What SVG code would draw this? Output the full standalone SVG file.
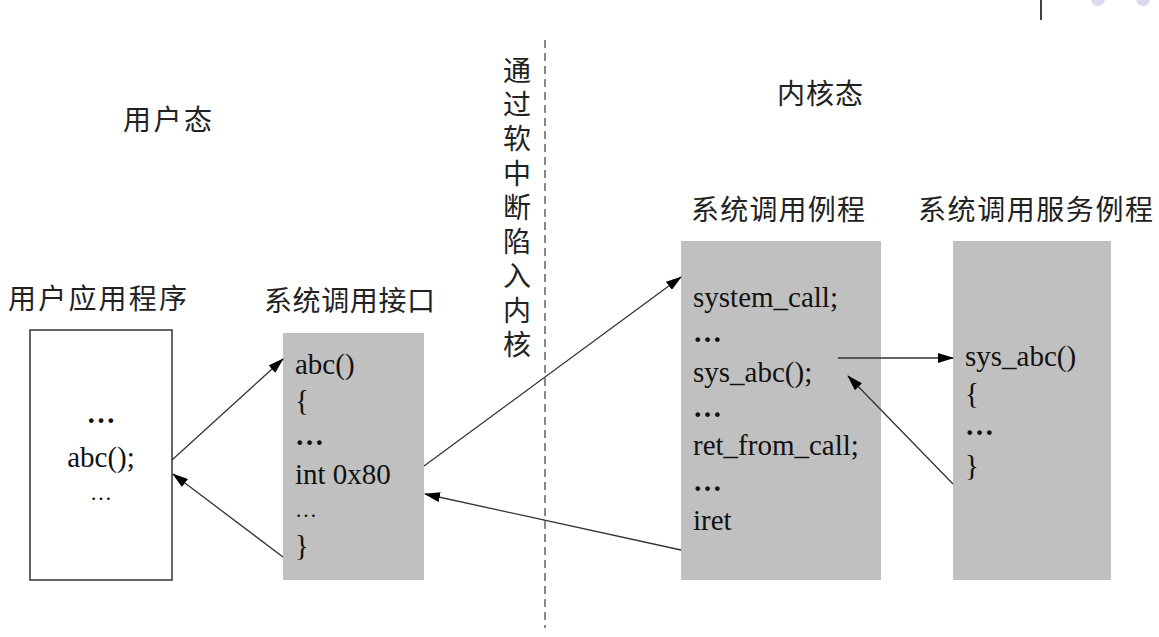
<svg xmlns="http://www.w3.org/2000/svg" width="1159" height="637" viewBox="0 0 1159 637">
<defs>
<style>
.cn{font-family:"Noto Sans CJK SC","Noto Sans CJK JP",sans-serif;font-size:28px;fill:#222}
.code{font-family:"Liberation Serif","Times New Roman",serif;font-size:29px;fill:#111}
.box{fill:#c0c0c0;stroke:none}
.wbox{fill:#fff;stroke:#333;stroke-width:1.5}
.con{stroke:#333;stroke-width:1.3;fill:none;marker-end:url(#ah)}
</style>
<marker id="ah" viewBox="0 0 16 10" refX="15" refY="5" markerWidth="16" markerHeight="10" markerUnits="userSpaceOnUse" orient="auto">
<path d="M0,0 L16,5 L0,10 Z" fill="#000"/>
</marker>
</defs>
<rect width="1159" height="637" fill="#fff"/>
<g id="decor">
<line x1="1041" y1="0" x2="1041" y2="20" stroke="#000" stroke-width="1.5"/>
<circle cx="1098" cy="-1" r="7" fill="#d9d9f0"/>
<circle cx="1143" cy="-1" r="7" fill="#d9d9f0"/>
</g>
<g id="divider">
<line x1="545" y1="40" x2="545" y2="628" stroke="#888" stroke-width="2" stroke-dasharray="8,5"/>
</g>
<g id="labels">
<text class="cn" x="123" y="130" textLength="89">用户态</text>
<text class="cn" x="777" y="104" textLength="86">内核态</text>
<text class="cn" x="517" y="56" writing-mode="vertical-rl" font-size="26" letter-spacing="6.3">通过软中断陷入内核</text>
</g>
<g id="user-app">
<text class="cn" x="8" y="309" textLength="179">用户应用程序</text>
<rect class="wbox" x="30" y="330" width="142" height="250"/>
<g class="code" text-anchor="middle">
<text x="101" y="423" font-weight="bold">…</text>
<text x="101" y="467">abc();</text>
<text x="101" y="500" font-size="22">…</text>
</g>
</g>
<g id="syscall-interface">
<text class="cn" x="264" y="311" textLength="171">系统调用接口</text>
<rect class="box" x="283" y="333" width="141" height="247"/>
<g class="code">
<text x="295" y="374">abc()</text>
<text x="295" y="410">{</text>
<text x="295" y="445" font-weight="bold">…</text>
<text x="295" y="484">int 0x80</text>
<text x="295" y="517" font-size="22">…</text>
<text x="295" y="555">}</text>
</g>
</g>
<g id="syscall-routine">
<text class="cn" x="691" y="220" textLength="174">系统调用例程</text>
<rect class="box" x="681" y="241" width="200" height="339"/>
<g class="code">
<text x="693" y="307">system_call;</text>
<text x="693" y="342" font-weight="bold">…</text>
<text x="693" y="382">sys_abc();</text>
<text x="693" y="417" font-weight="bold">…</text>
<text x="693" y="455">ret_from_call;</text>
<text x="693" y="491" font-weight="bold">…</text>
<text x="693" y="530">iret</text>
</g>
</g>
<g id="service-routine">
<text class="cn" x="918" y="220" textLength="235">系统调用服务例程</text>
<rect class="box" x="953" y="241" width="158" height="339"/>
<g class="code">
<text x="965" y="366">sys_abc()</text>
<text x="965" y="403">{</text>
<text x="965" y="435" font-weight="bold">…</text>
<text x="965" y="475">}</text>
</g>
</g>
<g id="connectors">
<line class="con" x1="172" y1="460" x2="283" y2="359"/>
<line class="con" x1="283" y1="557" x2="173" y2="474"/>
<line class="con" x1="424" y1="466" x2="681" y2="277"/>
<line class="con" x1="681" y1="550" x2="425" y2="494"/>
<line class="con" x1="838" y1="358" x2="953" y2="358"/>
<line class="con" x1="953" y1="484" x2="848" y2="376"/>
</g>
</svg>
